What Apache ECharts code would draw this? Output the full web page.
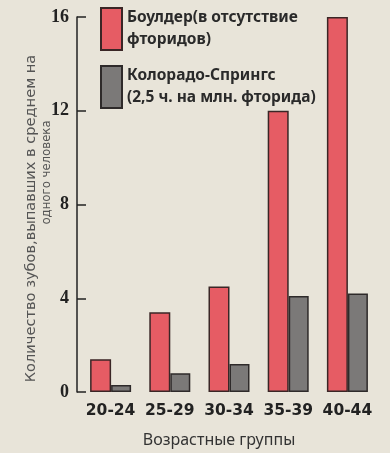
<!DOCTYPE html>
<html>
<head>
<meta charset="utf-8">
<script src="https://cdn.jsdelivr.net/npm/echarts@6/dist/echarts.min.js"></script>
<style>
html,body{margin:0;padding:0;background:#e8e4d9;}
#c{width:390px;height:453px;}
</style>
</head>
<body>
<div id="c"></div>
<script>
var categories = ['20-24', '25-29', '30-34', '35-39', '40-44'];
var boulder = [1.4, 3.4, 4.5, 12.0, 16.0];
var colorado = [0.3, 0.8, 1.2, 4.1, 4.2];
var yTicks = [0, 4, 8, 12, 16];
var seriesNames = ['Боулдер(в отсутствие\nфторидов)', 'Колорадо-Спрингс\n(2,5 ч. на млн. фторида)'];

var chart = echarts.init(document.getElementById('c'));
chart.setOption({
  backgroundColor: '#e8e4d9',
  animation: false,
  grid: { left: 81, right: 13, top: 17, bottom: 61 },
  legend: {
    orient: 'vertical',
    left: 95,
    top: 2,
    itemWidth: 21,
    itemHeight: 42,
    itemGap: 14,
    icon: 'rect',
    textStyle: { fontFamily: 'Noto Sans', fontSize: 15.5, fontWeight: 'bold', color: '#2a2a2a', lineHeight: 22 },
    data: seriesNames
  },
  xAxis: {
    type: 'category',
    data: categories,
    axisLine: { show: false },
    axisTick: { show: false },
    axisLabel: { interval: 0, hideOverlap: false, margin: 11, fontFamily: 'DejaVu Sans', fontSize: 15.5, fontWeight: 'bold', color: '#222' },
    name: 'Возрастные группы',
    nameLocation: 'middle',
    nameGap: 40,
    nameMoveOverlap: false,
    nameTextStyle: { fontFamily: 'Noto Sans', fontSize: 16, color: '#333', padding: [0, 20, 0, 0] }
  },
  yAxis: {
    type: 'value',
    min: 0,
    max: 16,
    interval: 4,
    offset: 4,
    splitLine: { show: false },
    axisLine: { show: true, lineStyle: { color: '#222', width: 1.5 } },
    axisTick: { show: true, inside: true, length: 9, lineStyle: { color: '#222', width: 1.5 } },
    axisLabel: {
      margin: 8, fontFamily: 'Liberation Serif', fontSize: 18, fontWeight: 'bold', color: '#222',
      formatter: function (v) { return yTicks.indexOf(v) >= 0 ? String(v) : ''; }
    },
    name: '{a|Количество зубов,выпавших в среднем на}\n{b|одного человека}',
    nameLocation: 'middle',
    nameRotate: 90,
    nameGap: 22,
    nameMoveOverlap: false,
    nameTextStyle: {
      fontFamily: 'DejaVu Sans', fontSize: 15, color: '#555', lineHeight: 16,
      rich: {
        a: { fontFamily: 'DejaVu Sans', fontSize: 14.6, color: '#555', lineHeight: 16, padding: [0, 28, 0, 0] },
        b: { fontFamily: '"DejaVu Sans Condensed", "DejaVu Sans"', fontSize: 13, color: '#555', lineHeight: 16, padding: [0, 0, 0, 64] }
      }
    }
  },
  series: [
    {
      name: seriesNames[0], type: 'bar', data: boulder, barWidth: 21, barGap: '0%',
      itemStyle: { color: '#e65c64', borderColor: '#3a2626', borderWidth: 1.5 }
    },
    {
      name: seriesNames[1], type: 'bar', data: colorado, barWidth: 20,
      itemStyle: { color: '#7b7978', borderColor: '#2e2a2a', borderWidth: 1.5 }
    }
  ]
});
</script>
</body>
</html>
